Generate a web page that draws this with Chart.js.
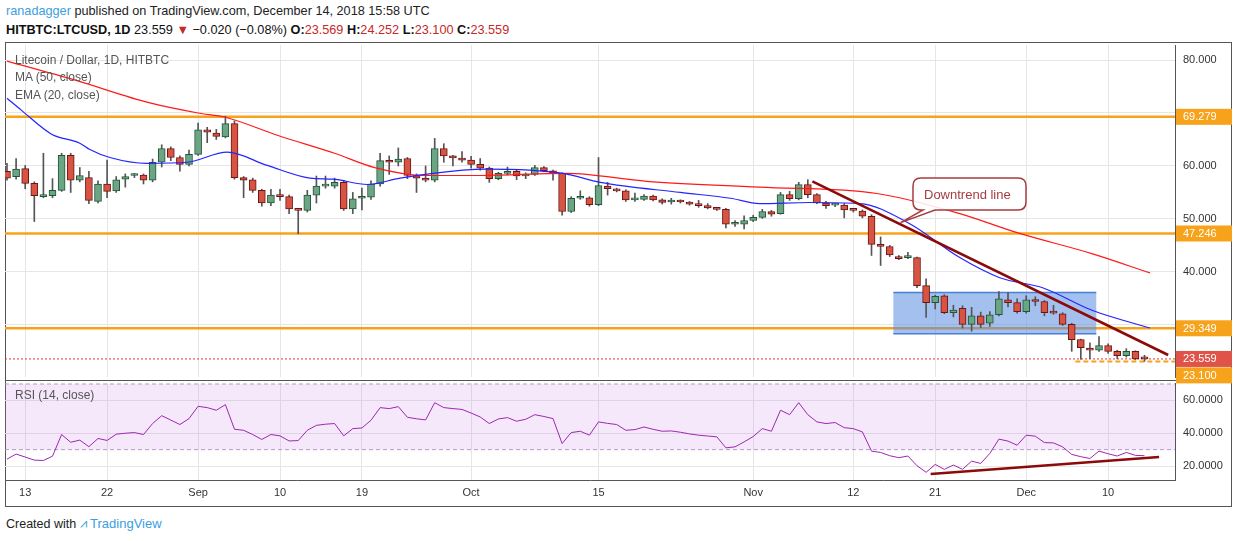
<!DOCTYPE html>
<html><head><meta charset="utf-8">
<script src="https://cdn.jsdelivr.net/npm/chart.js@4.4.0/dist/chart.umd.min.js"></script>
<style>
body{margin:0;background:#fff;width:1234px;height:541px;overflow:hidden;font-family:"Liberation Sans",Arial,sans-serif;position:relative}
.t{position:absolute;white-space:nowrap}
#c1{position:absolute;left:5px;top:40px}
#c2{position:absolute;left:5px;top:383px}
.r{color:#c62828}
</style></head><body>
<div class="t" style="left:6px;top:4px;font-size:12.7px;color:#222"><span style="color:#3ba0e0">ranadagger</span> published on TradingView.com, December 14, 2018 15:58 UTC</div>
<div class="t" style="left:6px;top:23px;font-size:12.7px;color:#111"><b>HITBTC:LTCUSD, 1D</b> 23.559 <span class="r">▼</span> −0.020 (−0.08%) <b>O:</b><span class="r">23.569</span> <b>H:</b><span class="r">24.252</span> <b>L:</b><span class="r">23.100</span> <b>C:</b><span class="r">23.559</span></div>
<div style="position:absolute;left:5px;top:42px;width:1227px;height:465px;border:1px solid #555;box-sizing:border-box"></div>
<canvas id="c2" width="1229" height="125"></canvas>
<div style="position:absolute;left:5px;top:380px;width:1227px;height:1px;background:#555"></div>
<canvas id="c1" width="1229" height="345"></canvas>
<div class="t" style="left:15px;top:53px;font-size:12px;color:#555">Litecoin / Dollar, 1D, HITBTC</div>
<div class="t" style="left:15px;top:70px;font-size:12px;color:#555">MA (50, close)</div>
<div class="t" style="left:15px;top:88px;font-size:12px;color:#555">EMA (20, close)</div>
<div class="t" style="left:15px;top:388px;font-size:12px;color:#555">RSI (14, close)</div>
<div class="t" style="left:6px;top:516px;font-size:12.5px;color:#222">Created with <span style="color:#3ba0e0;font-size:13px">⩘ TradingView</span></div>
<script>
const opens=[59.0,58.0,59.5,56.7,54.2,54.4,55.4,62.0,57.3,57.8,53.3,56.6,55.3,57.5,58.2,58.3,57.3,60.7,63.3,61.6,60.3,62.2,66.8,66.2,65.5,68.0,57.8,57.4,55.4,53.0,54.3,54.2,51.7,51.6,54.5,56.2,56.2,56.9,51.9,53.9,54.1,56.6,60.8,60.7,61.4,58.2,57.7,57.3,63.3,61.9,61.5,61.1,60.3,59.6,57.6,58.6,59.0,58.1,58.4,59.7,59.1,58.6,51.4,53.9,54.0,52.7,56.2,55.6,55.3,53.6,53.7,54.3,53.6,53.2,53.3,53.2,52.8,52.5,52.1,51.8,49.0,49.0,49.7,50.3,51.4,51.0,54.6,53.8,56.5,54.6,53.0,52.6,52.6,51.65,51.5,50.5,45.2,44.8,42.9,42.7,42.7,37.4,34.2,35.5,32.3,33.1,30.1,31.7,30.3,31.9,34.7,34.2,32.5,34.5,34.4,32.25,32.1,30.1,27.2,25.6,25.2,26.1,25.0,24.2,25.0,23.569];
const closes=[57.7,59.4,56.7,54.4,54.3,55.4,62.0,57.3,58.2,53.5,56.6,55.2,57.4,58.0,58.3,57.3,60.7,63.3,61.6,60.3,62.2,66.8,66.4,65.6,68.0,57.8,57.3,55.4,53.0,54.5,54.2,51.9,51.6,54.5,56.2,56.25,56.9,51.9,53.8,54.0,56.6,61.0,60.7,61.3,58.2,57.7,57.3,63.3,61.9,61.5,61.1,60.3,59.6,57.6,58.6,59.0,58.1,58.4,59.7,59.1,58.6,51.4,53.9,54.0,52.7,56.3,55.7,55.3,53.6,53.7,54.3,53.6,53.1,53.3,53.2,52.8,52.5,52.1,51.8,49.0,49.05,49.7,50.3,51.4,50.9,54.6,53.8,56.5,54.6,53.0,52.5,52.65,51.7,51.6,50.5,45.2,44.8,43.2,42.5,42.75,37.4,34.2,35.4,32.3,32.8,30.1,31.7,30.1,31.9,34.9,34.2,32.5,34.7,34.4,32.3,32.2,30.1,27.2,25.7,25.2,26.1,25.0,24.2,25.0,23.57,23.559];
const highs=[60.5,61.4,60.1,57.0,62.4,57.6,62.4,62.4,59.7,59.0,57.2,61.1,58.0,58.5,58.6,58.5,61.3,64.0,63.6,61.9,63.0,68.1,67.3,66.9,69.4,68.5,58.0,57.7,55.6,55.6,55.6,54.5,51.9,55.4,58.1,58.1,57.7,57.3,55.0,55.8,57.2,62.4,61.9,63.4,61.6,58.5,60.0,65.2,64.2,62.0,62.7,61.8,61.4,59.8,58.8,59.8,59.3,58.7,60.1,59.9,59.2,58.7,54.2,55.3,54.2,61.6,56.9,55.8,55.5,54.9,54.6,54.5,53.8,53.9,53.6,53.3,53.5,52.9,52.2,52.0,49.7,50.6,50.7,51.8,51.6,55.0,55.2,56.9,57.4,54.8,53.3,52.9,52.9,51.9,51.7,50.8,46.6,45.0,43.1,43.7,42.8,38.7,35.6,35.7,33.7,33.6,33.3,32.4,32.5,36.3,36.1,34.9,35.5,35.3,34.6,33.7,32.3,30.3,27.3,26.6,27.8,26.4,25.2,25.5,25.1,24.252];
const lows=[57.3,57.5,55.7,49.5,54.0,54.0,55.2,55.0,57.0,52.9,53.0,54.0,55.0,56.0,57.8,56.6,57.0,59.8,61.0,59.0,60.0,62.0,64.4,65.0,65.3,57.5,54.0,55.0,52.4,52.5,53.5,51.0,47.2,51.3,53.0,55.8,55.8,51.6,51.0,51.7,53.7,56.2,58.4,60.0,57.6,55.0,57.0,57.0,60.7,60.0,60.7,59.6,59.2,56.9,57.4,58.3,57.4,57.6,58.2,58.9,57.3,50.7,51.2,53.7,52.4,52.5,54.5,55.1,53.3,53.3,53.5,53.4,52.8,52.8,53.0,52.6,52.2,51.9,51.6,48.3,48.6,48.1,49.5,50.1,50.5,50.9,53.5,53.6,54.0,52.9,52.0,52.3,50.2,51.3,50.2,43.1,41.2,42.9,42.3,42.5,37.0,31.4,33.0,32.1,31.5,29.4,28.8,29.5,29.7,31.7,33.4,32.2,32.2,33.6,31.7,32.0,29.9,25.0,23.5,23.6,25.0,24.6,23.6,23.9,23.4,23.1];
const maDays=[0,7.5,15.7,21,24,29.7,36,40.4,46,52,61.5,70.3,82.7,95.6,104.7,111,119.3,125.6];
const maVals=[79.8,76.2,71.9,70.0,69.2,65.8,62.4,59.7,58.2,58.2,58.6,57.1,56.0,54.8,51.0,47.4,43.4,39.8];
const emaDays=[0,1.6,4.9,8,9.1,11.3,15.4,19.8,24.2,28.6,33.3,35.8,39.6,43.2,50.1,52.7,61.1,65.2,74,79.5,82.7,88.2,93.7,99.2,104.7,109.1,113.8,119.3,125.6];
const emaVals=[72.8,70.5,66.0,64.3,63.1,61.6,60.5,60.7,62.6,60.1,57.7,57.5,56.5,57.7,59.2,59.4,58.6,56.9,55.0,53.9,52.9,53.1,52.9,49.1,42.7,38.9,37.0,32.7,29.4];
const rsi=[24.2,27.3,25.5,23.6,23.4,26,39.2,34.5,35.8,31.8,36.8,35.6,39.4,40,40.4,39.2,45.9,50.7,48,45.3,48.9,56.4,55.6,54,57.4,42.4,41.8,39.2,36.2,39.2,38.4,35.3,35.5,41.8,44.8,45.5,45.9,38.4,42.8,43.2,47.9,55.6,55,56.2,49.7,48.8,48.1,58.6,55.6,55,54.5,52.3,49.9,45.9,48.7,49.5,47.3,48.5,51.3,50.2,48.9,33.7,40.4,41.2,38.8,46.9,46,45.3,41.8,42.2,43.8,42.4,41.2,41.4,40.6,39.6,38.8,38.3,37.8,31.1,31.7,34.7,38,42.8,41.2,54,51.3,58.6,51.3,46.9,45.9,46.5,43.4,42.8,40.8,29.1,28.3,26.3,25.1,26.1,20.2,16.2,21,18,20.6,18,23,21.6,27.7,36.4,35.2,32.7,38.8,38.2,34.3,34.1,31.7,27.1,25.7,24.6,29.1,27.5,26.1,28.3,26.5,26.3];
const tickDays=[2,11,21,30,39,51,65,82,93,102,112,121];
const tickLabels=['13','22','Sep','10','19','Oct','15','Nov','12','21','Dec','10'];
const priceGrid=[30,40,50,60,70,80];
const priceLabels=[40,50,60,80];
const levels=[69.279,47.246,29.349];
const lastClose=23.559, lastLow=23.100;
const boxRange={x0:97.4,x1:119.7,y0:28.3,y1:36.1};
const trend={x:[88.5,127.6],y:[57.1,24.3]};
const rsiTrend={x:[101.5,126.6],y:[15.2,25.5]};
const lowLineStart=117.4;

const XMIN=-0.22, XMAX=128.35;
const up=closes.map((c,i)=>c>=opens[i]);
const wide=s=>{s.width=59;s.paddingTop=0;s.paddingBottom=0;};
const xTicks=s=>{s.ticks=tickDays.map(v=>({value:v}));};
const xFit=h=>s=>{s.height=h;s.paddingLeft=0;s.paddingRight=0;};

const overlay={id:'ov',
 beforeDatasetsDraw(ch){const {ctx,chartArea:a,scales:{x,y}}=ch;ctx.save();
  ctx.beginPath();ctx.rect(a.left,a.top,a.right-a.left,a.bottom-a.top);ctx.clip();
  ctx.strokeStyle='#f7a21b';ctx.lineWidth=2.5;
  levels.forEach(v=>{const p=y.getPixelForValue(v);ctx.beginPath();ctx.moveTo(a.left,p);ctx.lineTo(a.right,p);ctx.stroke();});
  const bx=x.getPixelForValue(boxRange.x0),bx2=x.getPixelForValue(boxRange.x1),by=y.getPixelForValue(boxRange.y1),by2=y.getPixelForValue(boxRange.y0);
  ctx.fillStyle='rgba(90,140,225,0.55)';ctx.fillRect(bx,by,bx2-bx,by2-by);
  ctx.strokeStyle='#4a7fd8';ctx.lineWidth=1.5;ctx.beginPath();ctx.moveTo(bx,by);ctx.lineTo(bx2,by);ctx.moveTo(bx,by2);ctx.lineTo(bx2,by2);ctx.stroke();
  ctx.strokeStyle='#e53935';ctx.lineWidth=1;ctx.setLineDash([2,2]);const lp=y.getPixelForValue(lastClose);
  ctx.beginPath();ctx.moveTo(a.left,lp);ctx.lineTo(a.right,lp);ctx.stroke();
  ctx.strokeStyle='#f7a21b';ctx.lineWidth=2;ctx.setLineDash([5,3]);const lq=y.getPixelForValue(lastLow);
  ctx.beginPath();ctx.moveTo(x.getPixelForValue(lowLineStart),lq);ctx.lineTo(a.right,lq);ctx.stroke();
  ctx.restore();},
 afterDraw(ch){const {ctx,chartArea:a,scales:{x,y}}=ch;ctx.save();
  ctx.font='11px "Liberation Sans", Arial';ctx.textBaseline='middle';
  const tag=(v,col,dy)=>{const p=y.getPixelForValue(v)+dy;ctx.fillStyle=col;ctx.fillRect(a.right+1,p-8,56,16);ctx.fillStyle='#fff';ctx.fillText(v.toFixed(3),a.right+8,p+0.5);};
  levels.forEach(v=>tag(v,'#f7a21b',0));tag(lastLow,'#f7a21b',14);tag(lastClose,'#e0534a',0);
  const px=x.getPixelForValue(98.2),py=y.getPixelForValue(49.3);
  const L=908,T=138,W=113,H=32,r=8;
  ctx.beginPath();ctx.moveTo(L+r,T);ctx.lineTo(L+W-r,T);ctx.quadraticCurveTo(L+W,T,L+W,T+r);ctx.lineTo(L+W,T+H-r);ctx.quadraticCurveTo(L+W,T+H,L+W-r,T+H);
  ctx.lineTo(L+22,T+H);ctx.lineTo(px,py);ctx.lineTo(L+10,T+H);ctx.lineTo(L+r,T+H);ctx.quadraticCurveTo(L,T+H,L,T+H-r);ctx.lineTo(L,T+r);ctx.quadraticCurveTo(L,T,L+r,T);ctx.closePath();
  ctx.fillStyle='rgba(255,255,255,0.85)';ctx.fill();ctx.strokeStyle='#a63d40';ctx.lineWidth=1.5;ctx.stroke();
  ctx.fillStyle='#a63d40';ctx.font='13px "Liberation Sans", Arial';ctx.fillText('Downtrend line',L+11,T+H/2+1);
  ctx.restore();}
};

new Chart(document.getElementById('c1'),{
 data:{datasets:[
  {type:'bar',order:6,data:opens.map((o,i)=>({x:i,y:[lows[i],highs[i]]})),backgroundColor:'#555',barThickness:1,grouped:false},
  {type:'bar',order:5,data:opens.map((o,i)=>({x:i,y:[o,closes[i]]})),backgroundColor:up.map(u=>u?'#6ba583':'#d75442'),borderColor:up.map(u=>u?'#225437':'#6b1515'),borderWidth:1,borderSkipped:false,barThickness:7,grouped:false,minBarLength:2},
  {type:'line',order:3,data:maDays.map((d,i)=>({x:d,y:maVals[i]})),borderColor:'#ff1a1a',borderWidth:1.2,pointRadius:0,cubicInterpolationMode:'monotone'},
  {type:'line',order:2,data:emaDays.map((d,i)=>({x:d,y:emaVals[i]})),borderColor:'#2424ff',borderWidth:1.2,pointRadius:0,cubicInterpolationMode:'monotone'},
  {type:'line',order:1,data:trend.x.map((d,i)=>({x:d,y:trend.y[i]})),borderColor:'#8b0a0a',borderWidth:2.6,pointRadius:0}
 ]},
 options:{responsive:false,animation:false,events:[],layout:{padding:{top:5,bottom:8,left:0,right:0}},
  plugins:{legend:{display:false},tooltip:{enabled:false}},
  scales:{
   x:{type:'linear',offset:false,min:XMIN,max:XMAX,afterBuildTicks:xTicks,ticks:{display:false},grid:{color:'#e6e6e6',drawTicks:false,offset:false},border:{display:false},afterFit:xFit(0)},
   y:{position:'right',min:20.15,max:82.84,afterBuildTicks:s=>{s.ticks=priceGrid.map(v=>({value:v}));},afterFit:wide,
      ticks:{padding:8,color:'#333',font:{size:11,family:'"Liberation Sans", Arial'},callback:v=>priceLabels.includes(v)?v.toFixed(3):''},
      grid:{color:'#e6e6e6',drawTicks:false},border:{color:'#555'}}
  }},
 plugins:[overlay]
});

const rsiPl={id:'rsi',beforeDatasetsDraw(ch){const {ctx,chartArea:a,scales:{x,y}}=ch;ctx.save();
 const p70=y.getPixelForValue(70),p30=y.getPixelForValue(30);
 ctx.fillStyle='rgba(186,104,230,0.15)';ctx.fillRect(a.left,p70,a.right-a.left,p30-p70);
 ctx.strokeStyle='#b49ac4';ctx.setLineDash([4,3]);ctx.lineWidth=1;
 [p70,p30].forEach(p=>{ctx.beginPath();ctx.moveTo(a.left,p);ctx.lineTo(a.right,p);ctx.stroke();});
 ctx.restore();}};

new Chart(document.getElementById('c2'),{
 data:{datasets:[
  {type:'line',order:2,data:rsi.map((v,i)=>({x:i,y:v})),borderColor:'#9c27b0',borderWidth:1,pointRadius:0,tension:0},
  {type:'line',order:1,data:rsiTrend.x.map((d,i)=>({x:d,y:rsiTrend.y[i]})),borderColor:'#8b0a0a',borderWidth:2.6,pointRadius:0}
 ]},
 options:{responsive:false,animation:false,events:[],layout:{padding:{top:0,left:0,right:0,bottom:0}},
  plugins:{legend:{display:false},tooltip:{enabled:false}},
  scales:{
   x:{type:'linear',offset:false,min:XMIN,max:XMAX,afterBuildTicks:xTicks,afterFit:xFit(28),
      ticks:{color:'#333',maxRotation:0,autoSkip:false,padding:6,font:{size:11,family:'"Liberation Sans", Arial'},callback:v=>{const k=tickDays.indexOf(v);return k>=0?tickLabels[k]:'';}},
      grid:{color:'#e6e6e6',drawTicks:false},border:{color:'#555'}},
   y:{position:'right',min:11.5,max:70.6,afterFit:wide,afterBuildTicks:s=>{s.ticks=[20,40,60].map(v=>({value:v}));},
      ticks:{padding:8,color:'#333',font:{size:11,family:'"Liberation Sans", Arial'},callback:v=>v.toFixed(4)},
      grid:{color:'#e6e6e6',drawTicks:false},border:{color:'#555'}}
  }},
 plugins:[rsiPl]
});
</script></body></html>
